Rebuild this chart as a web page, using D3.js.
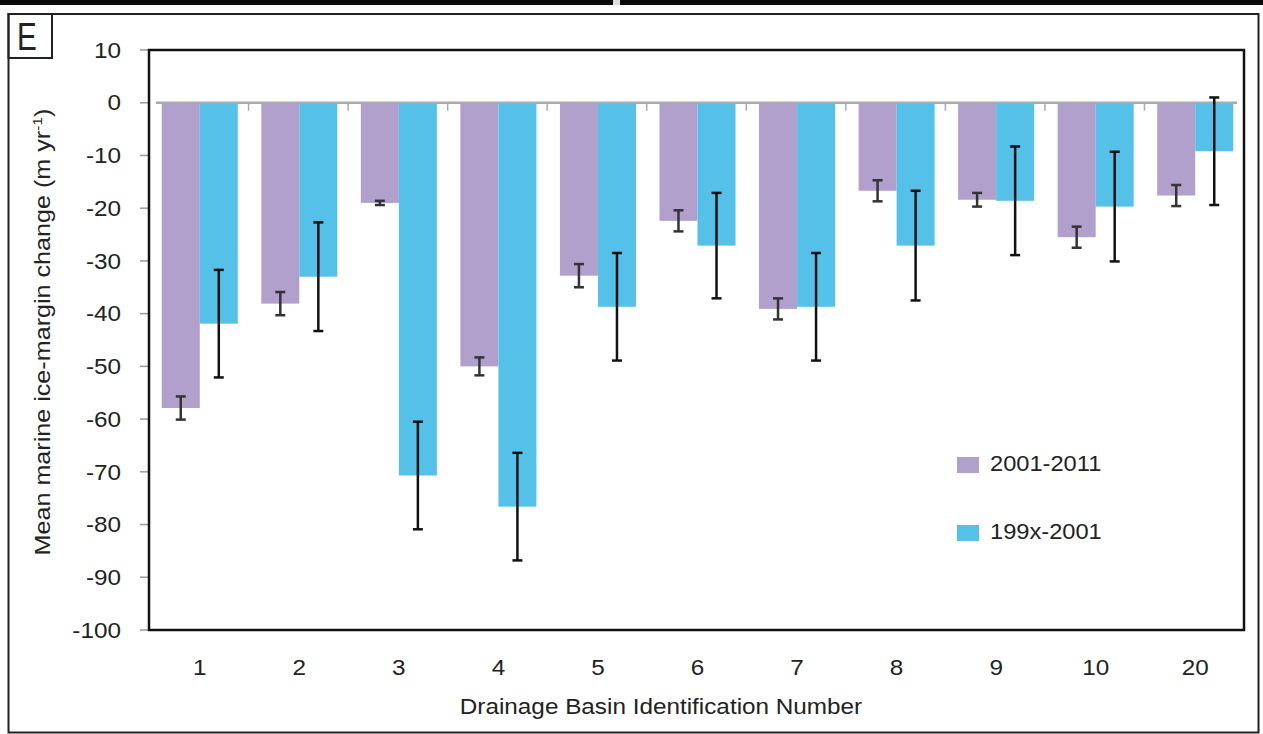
<!DOCTYPE html>
<html>
<head>
<meta charset="utf-8">
<script src="https://cdn.jsdelivr.net/npm/d3@7"></script>
<style>
  html, body { margin: 0; padding: 0; background: #fff; }
  svg { display: block; }
  text { font-family: "Liberation Sans", Arial, sans-serif; fill: #222; }
</style>
</head>
<body>
<svg id="chart" width="1263" height="734"></svg>
<script>
// Drainage basins and mean marine ice-margin change (m/yr) per period
const basins = ["1", "2", "3", "4", "5", "6", "7", "8", "9", "10", "20"];
const seriesNames = ["2001-2011", "199x-2001"];
const change2001_2011 = [-57.9, -38.1, -19.0, -50.0, -32.8, -22.4, -39.1, -16.7, -18.4, -25.5, -17.6];
const err2001_2011    = [2.2, 2.2, 0.4, 1.7, 2.2, 2.0, 2.0, 2.0, 1.3, 2.0, 2.0];
const change199x_2001 = [-41.9, -33.0, -70.7, -76.6, -38.7, -27.1, -38.7, -27.1, -18.6, -19.7, -9.2];
const err199x_2001    = [10.2, 10.3, 10.2, 10.2, 10.2, 10.0, 10.2, 10.4, 10.3, 10.4, 10.2];
const yTicks = [10, 0, -10, -20, -30, -40, -50, -60, -70, -80, -90, -100];

const colors = ["#b0a0cb", "#55c1e9"];
const values = [change2001_2011, change199x_2001];
const errors = [err2001_2011, err199x_2001];

const svg = d3.select("#chart");
const plot = { left: 149, right: 1244, top: 50, bottom: 630 };
const FS = 21.5, SX = 1.13;

// strip of the neighbouring panel at the top edge
svg.append("rect").attr("x", 0).attr("y", 0).attr("width", 1263).attr("height", 5).attr("fill", "#0a0a0a");
svg.append("rect").attr("x", 613).attr("y", 0).attr("width", 7).attr("height", 5).attr("fill", "#ddd");

// panel frame and letter box
svg.append("rect").attr("x", 8.5).attr("y", 14).attr("width", 1250).attr("height", 718.5)
  .attr("fill", "none").attr("stroke", "#222").attr("stroke-width", 2);
svg.append("rect").attr("x", 8.5).attr("y", 14).attr("width", 43.5).attr("height", 44)
  .attr("fill", "none").attr("stroke", "#222").attr("stroke-width", 2);
svg.append("text").attr("transform", "translate(17,50) scale(0.78,1)")
  .attr("font-size", 38).text("E");

const y = d3.scaleLinear().domain([-100, 10]).range([plot.bottom, plot.top]);
const x0 = d3.scaleBand().domain(basins).range([plot.left, plot.right])
  .paddingInner(0.236).paddingOuter(0.118);
const x1 = d3.scaleBand().domain(seriesNames).range([0, x0.bandwidth()]);

// y axis ticks and labels
const yAxis = svg.append("g");
yAxis.selectAll("line").data(yTicks).join("line")
  .attr("x1", 140).attr("x2", plot.left).attr("y1", d => y(d)).attr("y2", d => y(d))
  .attr("stroke", "#999").attr("stroke-width", 1.5);
yAxis.selectAll("text").data(yTicks).join("text")
  .attr("transform", d => `translate(121,${y(d) + FS * 0.36}) scale(${SX},1)`)
  .attr("text-anchor", "end").attr("font-size", FS).text(d => d);

// bars
const groups = svg.append("g").selectAll("g").data(basins).join("g")
  .attr("transform", d => `translate(${x0(d) + 1},0)`);
seriesNames.forEach((s, si) => {
  groups.append("rect")
    .attr("x", x1(s))
    .attr("width", x1.bandwidth())
    .attr("y", y(0))
    .attr("height", (d, i) => y(values[si][i]) - y(0))
    .attr("fill", colors[si]);
});

// zero line with category boundary ticks
svg.append("line").attr("x1", 156).attr("x2", 1237).attr("y1", y(0)).attr("y2", y(0))
  .attr("stroke", "#aaa").attr("stroke-width", 2.5);
svg.append("g").selectAll("line").data(basins.slice(1)).join("line")
  .attr("x1", d => x0(d) - x0.step() * 0.118).attr("x2", d => x0(d) - x0.step() * 0.118)
  .attr("y1", y(0)).attr("y2", y(0) + 8)
  .attr("stroke", "#aaa").attr("stroke-width", 1.5);

// error bars
seriesNames.forEach((s, si) => {
  const cx = (d) => x0(d) + 1 + x1(s) + x1.bandwidth() / 2;
  const eg = svg.append("g").attr("stroke", si === 0 ? "#333" : "#111").attr("stroke-width", 2.5);
  basins.forEach((b, i) => {
    const v = values[si][i], e = errors[si][i];
    const yt = y(v + e), yb = y(v - e);
    eg.append("line").attr("x1", cx(b)).attr("x2", cx(b)).attr("y1", yt).attr("y2", yb);
    eg.append("line").attr("x1", cx(b) - 5).attr("x2", cx(b) + 5).attr("y1", yt).attr("y2", yt);
    eg.append("line").attr("x1", cx(b) - 5).attr("x2", cx(b) + 5).attr("y1", yb).attr("y2", yb);
  });
});

// plot frame
svg.append("rect").attr("x", plot.left).attr("y", plot.top)
  .attr("width", plot.right - plot.left).attr("height", plot.bottom - plot.top)
  .attr("fill", "none").attr("stroke", "#111").attr("stroke-width", 2.5);

// category labels
svg.append("g").selectAll("text").data(basins).join("text")
  .attr("transform", d => `translate(${x0(d) + x0.bandwidth() / 2 + 1},675) scale(${SX},1)`)
  .attr("text-anchor", "middle").attr("font-size", FS).text(d => d);

// axis titles
svg.append("text").attr("transform", `translate(661,714) scale(${SX},1)`)
  .attr("text-anchor", "middle").attr("font-size", FS).text("Drainage Basin Identification Number");
const yt = svg.append("text").attr("transform", `translate(50,332) rotate(-90) scale(1.17,1)`)
  .attr("text-anchor", "middle").attr("font-size", FS);
yt.append("tspan").text("Mean marine ice-margin change (m yr");
yt.append("tspan").attr("font-size", FS * 0.62).attr("dy", -8).text("-1");
yt.append("tspan").attr("dy", 8).text(")");

// legend
const legend = svg.append("g");
const legendY = [457, 525];
seriesNames.forEach((s, si) => {
  legend.append("rect").attr("x", 957).attr("y", legendY[si]).attr("width", 22).attr("height", 16)
    .attr("fill", colors[si]);
  legend.append("text").attr("transform", `translate(990,${legendY[si] + 14}) scale(1.1,1)`)
    .attr("font-size", FS).text(s);
});
</script>
</body>
</html>
